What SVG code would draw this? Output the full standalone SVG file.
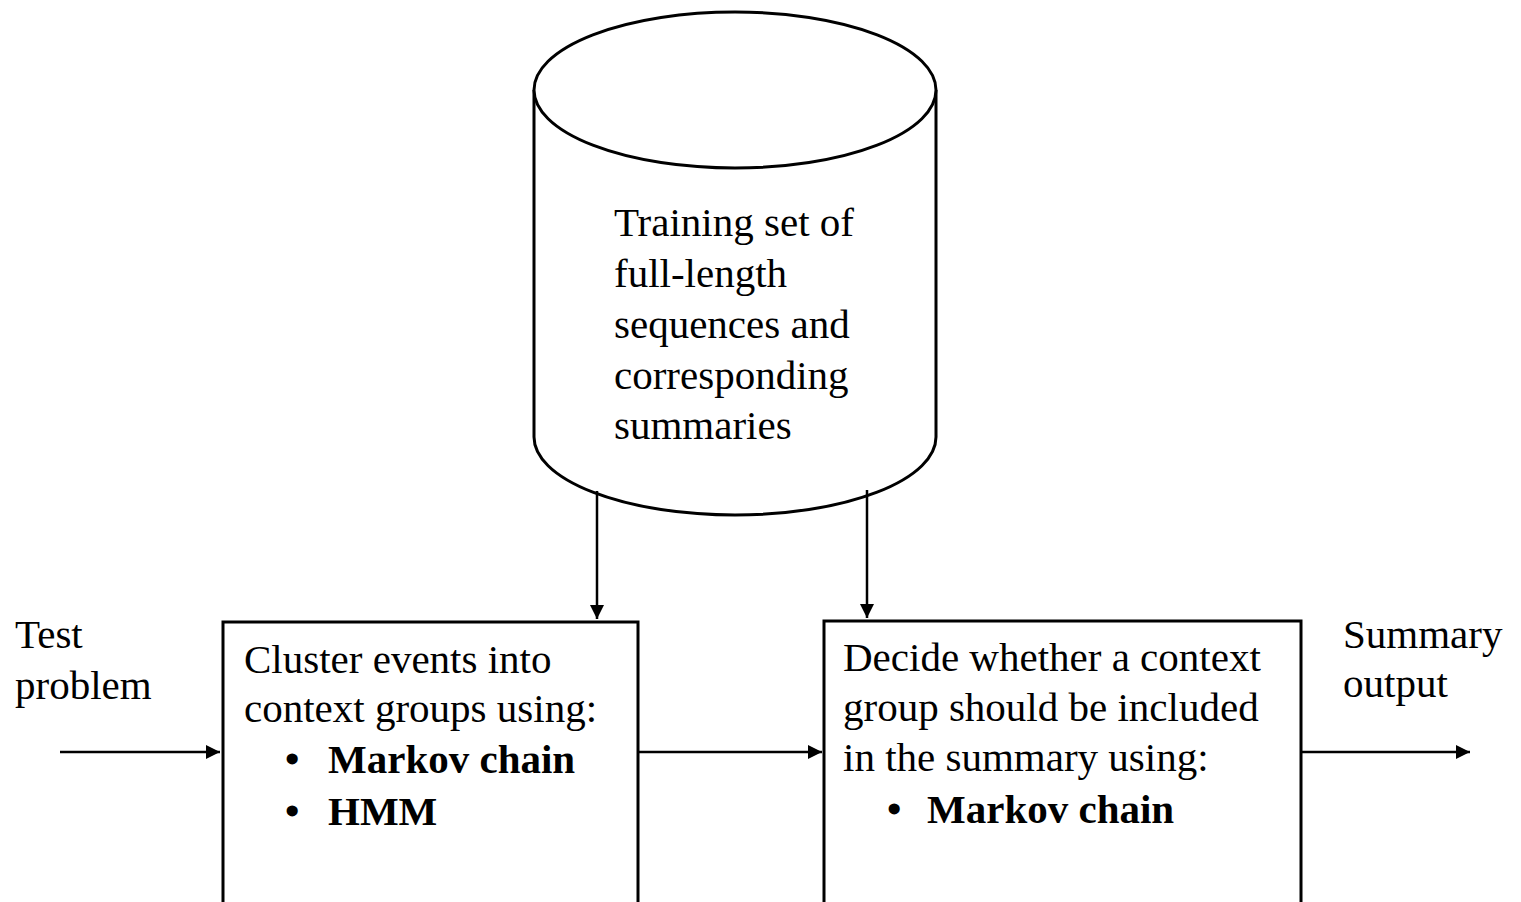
<svg xmlns="http://www.w3.org/2000/svg" width="1521" height="902" viewBox="0 0 1521 902">
  <style>
    .shape { fill: #ffffff; stroke: #000000; stroke-width: 3; }
    .edge { fill: none; stroke: #000000; stroke-width: 2.5; }
    .txt { font-family: "Liberation Serif", "Times New Roman", serif; font-size: 41px; fill: #000000; }
    .bold { font-weight: bold; }
  </style>
  <defs>
    <marker id="arrow" viewBox="0 0 14 14" refX="14" refY="7" markerWidth="14" markerHeight="14" markerUnits="userSpaceOnUse" orient="auto">
      <path d="M0,0 L14,7 L0,14 Z" fill="#000000"/>
    </marker>
  </defs>
  <rect width="1521" height="902" fill="#ffffff"/>

  <!-- Training database cylinder -->
  <g id="training-set">
    <path class="shape" d="M534,90 L534,437 A201,78 0 0 0 936,437 L936,90"/>
    <ellipse class="shape" cx="735" cy="90" rx="201" ry="78"/>
    <text class="txt" x="614" y="236">Training set of</text>
    <text class="txt" x="614" y="287">full-length</text>
    <text class="txt" x="614" y="338">sequences and</text>
    <text class="txt" x="614" y="389">corresponding</text>
    <text class="txt" x="614" y="439">summaries</text>
  </g>

  <!-- Input label -->
  <g id="test-problem">
    <text class="txt" x="15" y="648">Test</text>
    <text class="txt" x="15" y="699">problem</text>
  </g>

  <!-- Clustering step -->
  <g id="cluster">
    <rect class="shape" x="223" y="622" width="415" height="300"/>
    <text class="txt" x="244" y="673">Cluster events into</text>
    <text class="txt" x="244" y="722">context groups using:</text>
    <text class="txt bold" x="285" y="773">•</text>
    <text class="txt bold" x="328" y="773">Markov chain</text>
    <text class="txt bold" x="285" y="825">•</text>
    <text class="txt bold" x="328" y="825">HMM</text>
  </g>

  <!-- Selection step -->
  <g id="decide">
    <rect class="shape" x="824" y="621" width="477" height="300"/>
    <text class="txt" x="843" y="671">Decide whether a context</text>
    <text class="txt" x="843" y="721">group should be included</text>
    <text class="txt" x="843" y="771">in the summary using:</text>
    <text class="txt bold" x="887" y="823">•</text>
    <text class="txt bold" x="927" y="823">Markov chain</text>
  </g>

  <!-- Output label -->
  <g id="summary-output">
    <text class="txt" x="1343" y="648">Summary</text>
    <text class="txt" x="1343" y="697">output</text>
  </g>

  <!-- Connectors -->
  <g id="connectors">
    <line class="edge" x1="597" y1="491" x2="597" y2="619" marker-end="url(#arrow)"/>
    <line class="edge" x1="867" y1="490" x2="867" y2="618" marker-end="url(#arrow)"/>
    <line class="edge" x1="60" y1="752" x2="220" y2="752" marker-end="url(#arrow)"/>
    <line class="edge" x1="639" y1="752" x2="822" y2="752" marker-end="url(#arrow)"/>
    <line class="edge" x1="1302" y1="752" x2="1470" y2="752" marker-end="url(#arrow)"/>
  </g>
</svg>
